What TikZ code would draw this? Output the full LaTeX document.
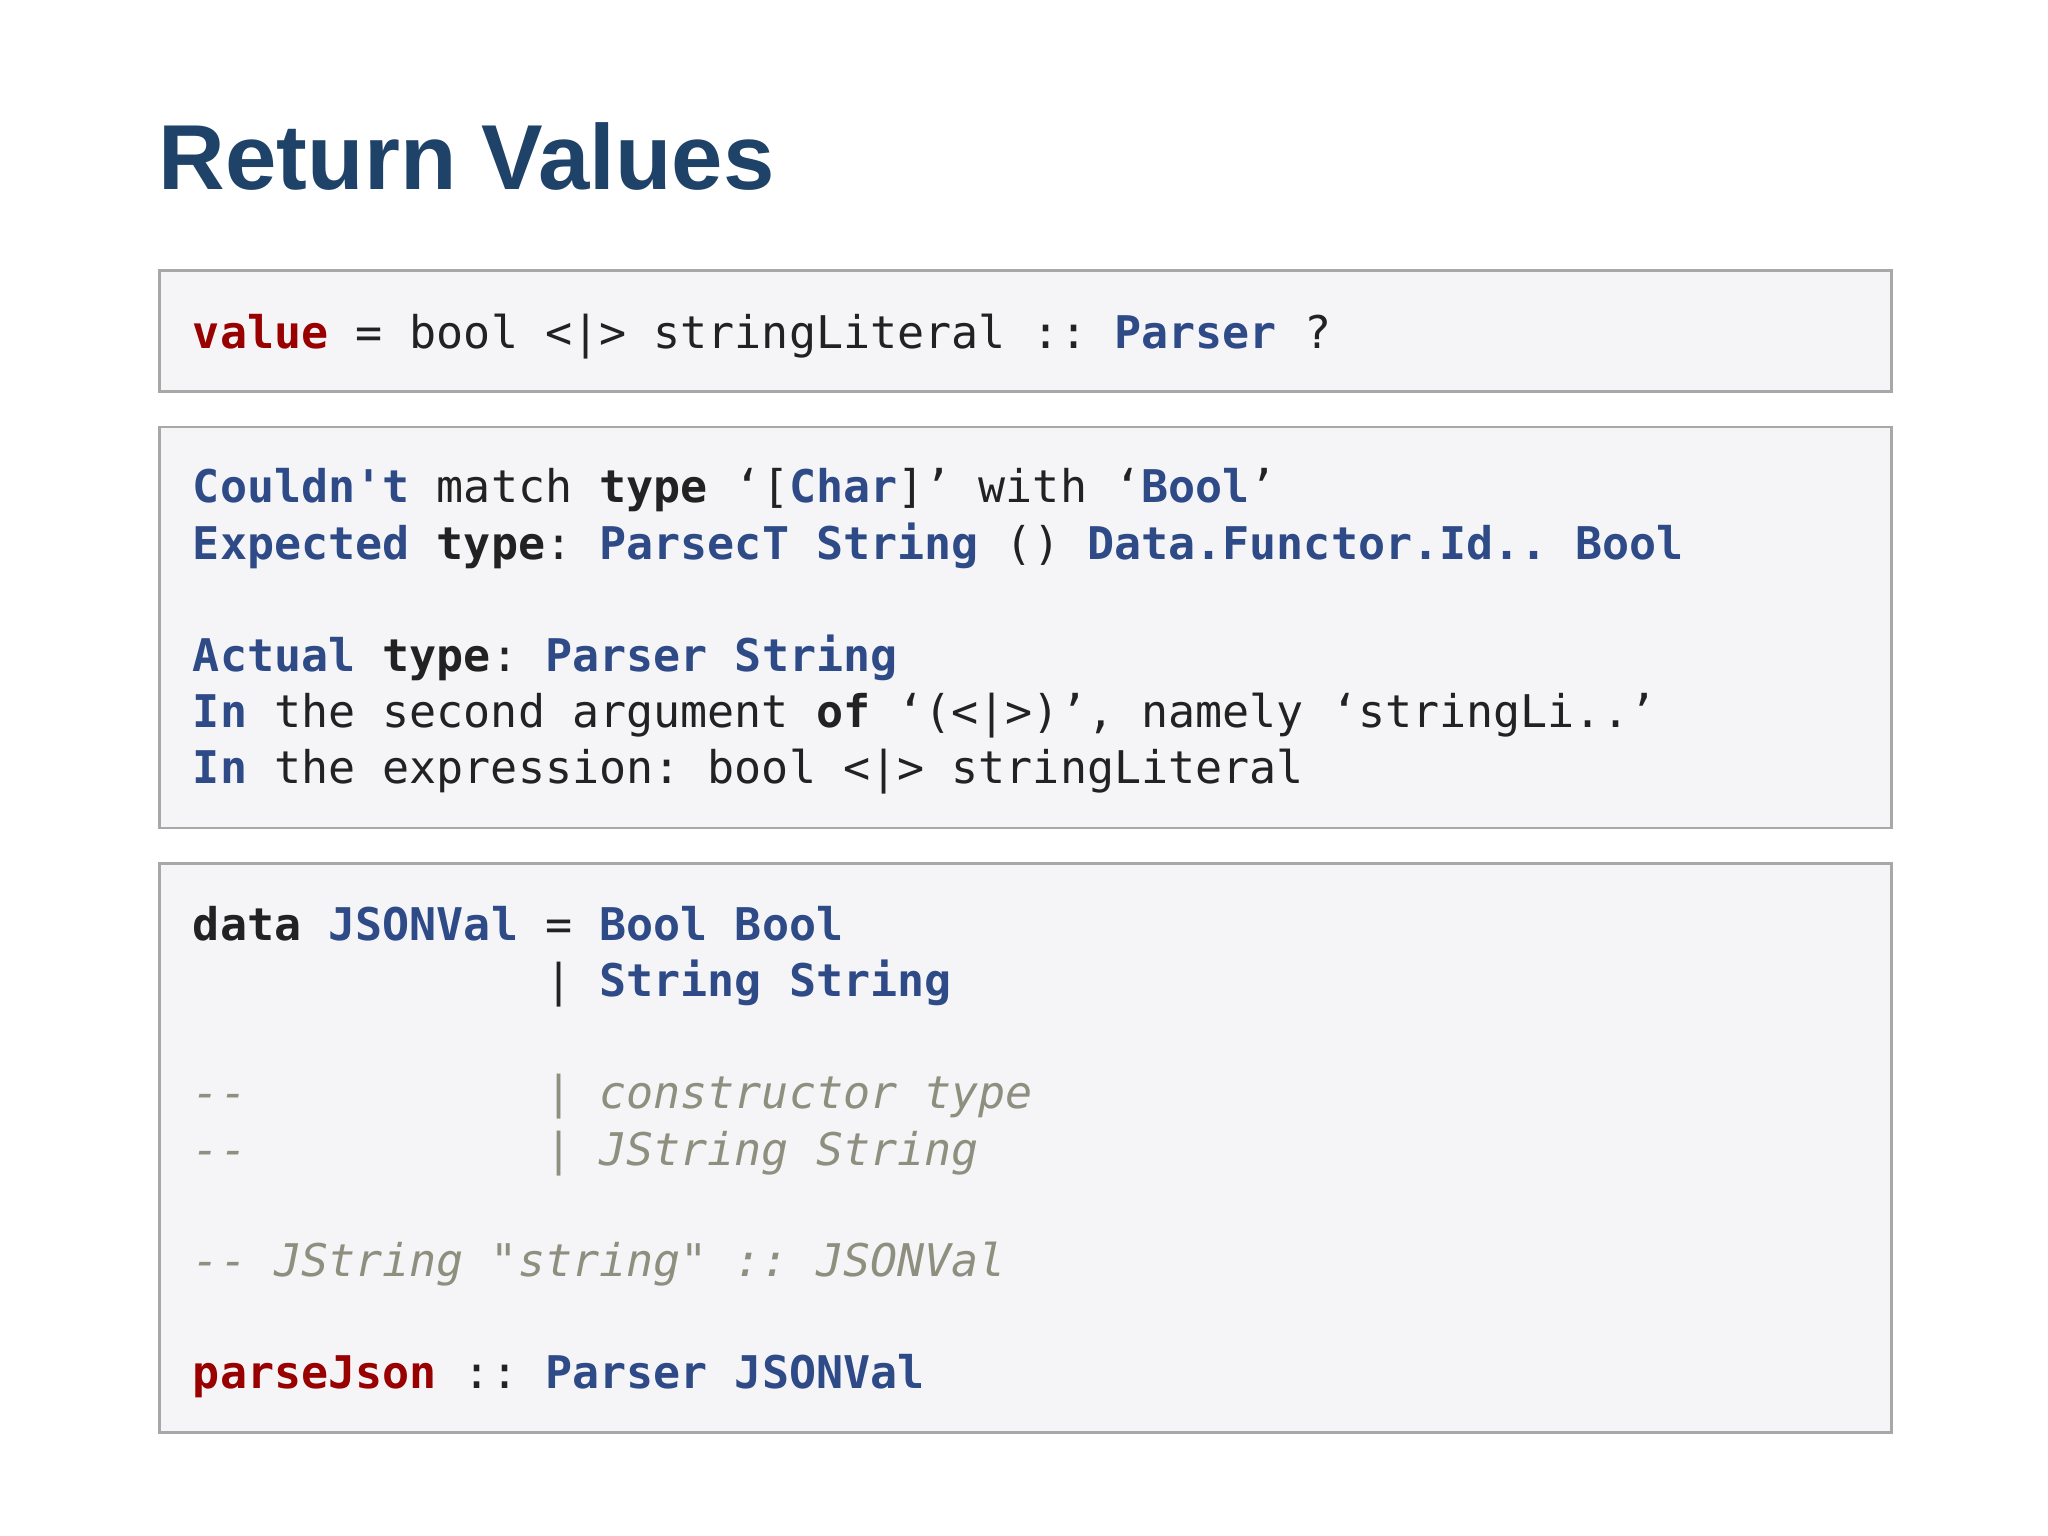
\documentclass[tikz,border=0pt]{standalone}
\usepackage{fontspec}
\setmainfont{Liberation Sans}
\setmonofont{DejaVu Sans Mono}
\definecolor{ttl}{HTML}{1F4268}
\definecolor{kwr}{HTML}{990000}
\definecolor{tyb}{HTML}{2E4A87}
\definecolor{cmg}{HTML}{8F8F80}
\definecolor{boxf}{HTML}{F5F5F7}
\definecolor{boxd}{HTML}{A8A8A8}
\definecolor{txt}{HTML}{222222}
\newcommand\kw[1]{\textcolor{kwr}{\bfseries #1}}
\newcommand\ty[1]{\textcolor{tyb}{\bfseries #1}}
\newcommand\bk[1]{\textbf{#1}}
\newcommand\cm[1]{\textcolor{cmg}{\itshape #1}}
\begin{document}
\begin{tikzpicture}[x=0.01cm,y=-0.01cm,
  codebox/.style={draw=boxd,fill=boxf,line width=0.6pt},
  ln/.style={anchor=base west,inner sep=0,font=\ttfamily\fontsize{9.8}{12}\selectfont,text=txt}]
\fill[white] (0,0) rectangle (1568,1176);
\useasboundingbox (0,0) rectangle (1568,1176);
\node[anchor=base west,inner sep=0,text=ttl,font=\bfseries\fontsize{20.1}{24}\selectfont] (title) at (121,145) {Return Values};
\draw[codebox] (122,207) rectangle (1448,300);
\draw[codebox] (122,327) rectangle (1448,634);
\draw[codebox] (122,661) rectangle (1448,1097);
\node[ln] (a1) at (147,267) {\kw{value} = bool <|> stringLiteral :: \ty{Parser} ?};
\node[ln] (b1) at (147,385) {\ty{Couldn't} match \bk{type} ‘[\ty{Char}]’ with ‘\ty{Bool}’};
\node[ln] (b2) at (147,428) {\ty{Expected} \bk{type}: \ty{ParsecT} \ty{String} () \ty{Data.Functor.Id..} \ty{Bool}};
\node[ln] (b3) at (147,514) {\ty{Actual} \bk{type}: \ty{Parser} \ty{String}};
\node[ln] (b4) at (147,557) {\ty{In} the second argument \bk{of} ‘(<|>)’, namely ‘stringLi..’};
\node[ln] (b5) at (147,600) {\ty{In} the expression: bool <|> stringLiteral};
\node[ln] (c1) at (147,720) {\bk{data} \ty{JSONVal} = \ty{Bool} \ty{Bool}};
\node[ln] (c2) at (147,763) {\ \ \ \ \ \ \ \ \ \ \ \ \ | \ty{String} \ty{String}};
\node[ln] (c3) at (147,849) {\cm{--\ \ \ \ \ \ \ \ \ \ \ | constructor type}};
\node[ln] (c4) at (147,892) {\cm{--\ \ \ \ \ \ \ \ \ \ \ | JString String}};
\node[ln] (c5) at (147,977) {\cm{-- JString "string" :: JSONVal}};
\node[ln] (c6) at (147,1063) {\kw{parseJson} :: \ty{Parser} \ty{JSONVal}};
\end{tikzpicture}
\end{document}
